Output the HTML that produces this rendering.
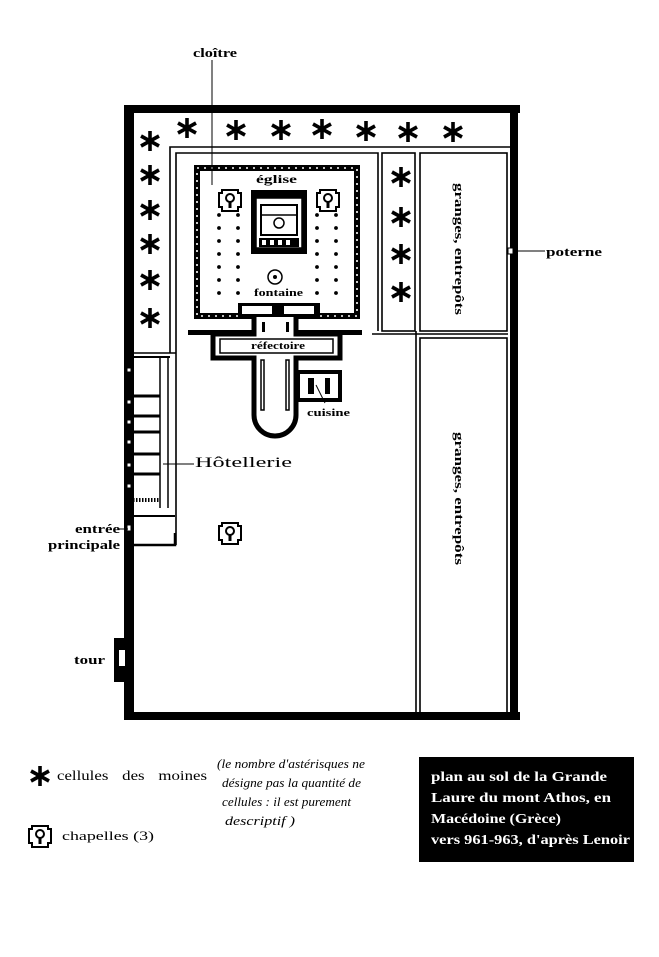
<!DOCTYPE html>
<html><head><meta charset="utf-8"><style>
html,body{margin:0;padding:0;background:#fff;}
svg{display:block;}
text{font-family:"Liberation Serif",serif;font-weight:bold;fill:#000;}
</style></head><body>
<svg width="659" height="957" viewBox="0 0 659 957" xmlns="http://www.w3.org/2000/svg">
<defs>
<g id="ast" stroke="#000" stroke-width="3.6" stroke-linecap="butt">
<line x1="0" y1="-10" x2="0" y2="10"/><line x1="-9" y1="-5" x2="9" y2="5"/><line x1="-9" y1="5" x2="9" y2="-5"/>
</g>
<g id="chap">
<path d="M-8,-10 h16 v3 h3 v14 h-3 v4 h-16 v-4 h-3 v-14 h3z" fill="#fff" stroke="#000" stroke-width="2"/>
<circle cx="0" cy="-2" r="4" fill="none" stroke="#000" stroke-width="2"/>
<rect x="-1.5" y="1" width="3" height="7" fill="#000"/>
</g>
</defs>
<rect x="124" y="105" width="10" height="612" fill="#000"/>
<rect x="124" y="105" width="396" height="8" fill="#000"/>
<rect x="510" y="105" width="8" height="615" fill="#000"/>
<rect x="124" y="712" width="396" height="8" fill="#000"/>
<rect x="114" y="638" width="12" height="44" fill="#000"/>
<rect x="119" y="650" width="6" height="16" fill="#fff"/>
<rect x="508" y="248" width="5" height="6" fill="#fff" stroke="#000"/>
<g fill="none" stroke="#000" stroke-width="1.6">
<path d="M170,353 V147 H510"/>
<path d="M176,545 V153 H378 V331"/>
<rect x="382" y="153" width="33" height="178"/>
<rect x="420" y="153" width="87" height="178"/>
<rect x="420" y="338" width="87" height="375"/>
<line x1="416" y1="331" x2="416" y2="712"/>
<line x1="372" y1="334" x2="508" y2="334"/>
<line x1="134" y1="353" x2="176" y2="353"/>
</g>
<g stroke="#000" fill="none">
<line x1="133" y1="357" x2="170" y2="357" stroke-width="2"/>
<line x1="168" y1="357" x2="168" y2="508" stroke-width="1.5"/>
<line x1="160" y1="357" x2="160" y2="508" stroke-width="1.5"/>
<g stroke-width="3"><line x1="133" y1="396" x2="160" y2="396"/><line x1="133" y1="416" x2="160" y2="416"/><line x1="133" y1="432" x2="160" y2="432"/><line x1="133" y1="454" x2="160" y2="454"/><line x1="133" y1="474" x2="160" y2="474"/></g>
<line x1="133" y1="500" x2="160" y2="500" stroke-width="4" stroke-dasharray="1.5,1.5"/>
<line x1="133" y1="516" x2="175" y2="516" stroke-width="2"/>
<path d="M133,545 H175 V533" stroke-width="2.5"/>
</g>
<g fill="#fff" stroke="#000"><rect x="127" y="368" width="4" height="4"/><rect x="127" y="400" width="4" height="4"/><rect x="127" y="420" width="4" height="4"/><rect x="127" y="440" width="4" height="4"/><rect x="127" y="463" width="4" height="4"/><rect x="127" y="484" width="4" height="4"/><rect x="127" y="525" width="4" height="6"/></g>
<rect x="197" y="168" width="160" height="148" fill="none" stroke="#000" stroke-width="6"/>
<rect x="197" y="168" width="160" height="148" fill="none" stroke="#fff" stroke-width="1.6" stroke-dasharray="2,5"/>
<g fill="#000">
<g id="dots"><circle cx="219" cy="215" r="1.9"/><circle cx="219" cy="228" r="1.9"/><circle cx="219" cy="241" r="1.9"/><circle cx="219" cy="254" r="1.9"/><circle cx="219" cy="267" r="1.9"/><circle cx="219" cy="280" r="1.9"/><circle cx="219" cy="293" r="1.9"/></g>
<use href="#dots" x="19"/><use href="#dots" x="98"/><use href="#dots" x="117"/>
</g>
<rect x="251" y="190" width="56" height="64" fill="#000"/>
<rect x="256" y="198" width="46" height="50" fill="#fff" stroke="#000" stroke-width="1.5"/>
<rect x="261" y="205" width="36" height="30" fill="none" stroke="#000" stroke-width="2"/>
<line x1="261" y1="215" x2="297" y2="215" stroke="#000" stroke-width="1.5"/>
<circle cx="279" cy="223" r="5" fill="none" stroke="#000" stroke-width="1.5"/>
<rect x="259" y="238" width="40" height="9" fill="#000"/>
<g fill="#fff"><rect x="262" y="240" width="4" height="5"/><rect x="270" y="240" width="4" height="5"/><rect x="278" y="240" width="4" height="5"/><rect x="286" y="240" width="4" height="5"/></g>
<circle cx="275" cy="277" r="7" fill="#fff" stroke="#000" stroke-width="1.5"/>
<circle cx="275" cy="277" r="2" fill="#000"/>
<rect x="188" y="330" width="174" height="5" fill="#000"/>
<rect x="238" y="303" width="82" height="14" fill="#000"/>
<rect x="242" y="306" width="30" height="8" fill="#fff"/><rect x="284" y="306" width="30" height="8" fill="#fff"/>
<path d="M254,317 V334 H213 V358 H254 V415 A21,21 0 0 0 296,415 V358 H340 V334 H296 V317" fill="#fff" stroke="#000" stroke-width="5"/>
<rect x="220" y="339" width="113" height="14" fill="none" stroke="#000" stroke-width="1.5"/>
<rect x="261" y="360" width="3" height="50" fill="none" stroke="#000" stroke-width="1.5"/>
<rect x="286" y="360" width="3" height="50" fill="none" stroke="#000" stroke-width="1.5"/>
<rect x="262" y="322" width="3" height="10" fill="#000"/><rect x="286" y="322" width="3" height="10" fill="#000"/>
<rect x="298" y="372" width="42" height="28" fill="none" stroke="#000" stroke-width="4"/>
<rect x="308" y="378" width="6" height="16" fill="#000"/><rect x="325" y="378" width="5" height="16" fill="#000"/>
<use href="#ast" x="187" y="128"/><use href="#ast" x="236" y="130"/><use href="#ast" x="281" y="130"/><use href="#ast" x="322" y="129"/><use href="#ast" x="366" y="131"/><use href="#ast" x="408" y="132"/><use href="#ast" x="453" y="132"/>
<use href="#ast" x="150" y="141"/><use href="#ast" x="150" y="175"/><use href="#ast" x="150" y="210"/><use href="#ast" x="150" y="244"/><use href="#ast" x="150" y="280"/><use href="#ast" x="150" y="318"/>
<use href="#ast" x="401" y="177"/><use href="#ast" x="401" y="217"/><use href="#ast" x="401" y="254"/><use href="#ast" x="401" y="292"/>
<use href="#ast" x="40" y="776"/>
<use href="#chap" x="230" y="200"/><use href="#chap" x="328" y="200"/><use href="#chap" x="230" y="533"/><use href="#chap" x="40" y="836"/>
<g stroke="#000" stroke-width="1"><line x1="212" y1="60" x2="212" y2="185"/><line x1="514" y1="251" x2="545" y2="251"/><line x1="163" y1="464" x2="194" y2="464"/><line x1="118" y1="529" x2="128" y2="529"/><line x1="316" y1="385" x2="325" y2="403"/></g>
<text x="193" y="57" font-size="13" textLength="44" lengthAdjust="spacingAndGlyphs">cloître</text>
<text x="256" y="183" font-size="12" textLength="41" lengthAdjust="spacingAndGlyphs">église</text>
<text x="254" y="296" font-size="11" textLength="49" lengthAdjust="spacingAndGlyphs">fontaine</text>
<text x="251" y="349" font-size="11" textLength="54" lengthAdjust="spacingAndGlyphs">réfectoire</text>
<text x="307" y="416" font-size="11" textLength="43" lengthAdjust="spacingAndGlyphs">cuisine</text>
<text x="195" y="467" font-size="15" textLength="97" lengthAdjust="spacingAndGlyphs" style="font-weight:normal">Hôtellerie</text>
<text x="75" y="533" font-size="13" textLength="45" lengthAdjust="spacingAndGlyphs">entrée</text>
<text x="48" y="549" font-size="13" textLength="72" lengthAdjust="spacingAndGlyphs">principale</text>
<text x="74" y="664" font-size="13" textLength="31" lengthAdjust="spacingAndGlyphs">tour</text>
<text x="546" y="256" font-size="13" textLength="56" lengthAdjust="spacingAndGlyphs">poterne</text>
<text transform="translate(455,183) rotate(90)" font-size="13" textLength="132" lengthAdjust="spacingAndGlyphs">granges, entrepôts</text>
<text transform="translate(455,432) rotate(90)" font-size="13" textLength="133" lengthAdjust="spacingAndGlyphs">granges, entrepôts</text>
<text x="57" y="780" font-size="14" style="font-weight:normal;word-spacing:8px" textLength="150" lengthAdjust="spacingAndGlyphs">cellules des moines</text>
<text x="62" y="840" font-size="13" style="font-weight:normal" textLength="92" lengthAdjust="spacingAndGlyphs">chapelles (3)</text>
<g font-size="12.5" font-style="italic">
<text x="217" y="768" style="font-weight:normal" textLength="148" lengthAdjust="spacingAndGlyphs">(le nombre d'astérisques ne</text>
<text x="222" y="787" style="font-weight:normal" textLength="139" lengthAdjust="spacingAndGlyphs">désigne pas la quantité de</text>
<text x="222" y="806" style="font-weight:normal" textLength="129" lengthAdjust="spacingAndGlyphs">cellules : il est purement</text>
<text x="225" y="825" style="font-weight:normal" textLength="70" lengthAdjust="spacingAndGlyphs">descriptif )</text>
</g>
<rect x="419" y="757" width="215" height="105" fill="#000"/>
<g font-size="14">
<text x="431" y="781" style="fill:#fff" textLength="176" lengthAdjust="spacingAndGlyphs">plan au sol de la Grande</text>
<text x="431" y="802" style="fill:#fff" textLength="180" lengthAdjust="spacingAndGlyphs">Laure du mont Athos, en</text>
<text x="431" y="823" style="fill:#fff" textLength="130" lengthAdjust="spacingAndGlyphs">Macédoine (Grèce)</text>
<text x="431" y="844" style="fill:#fff" textLength="199" lengthAdjust="spacingAndGlyphs">vers 961-963, d'après Lenoir</text>
</g>
</svg>
</body></html>
